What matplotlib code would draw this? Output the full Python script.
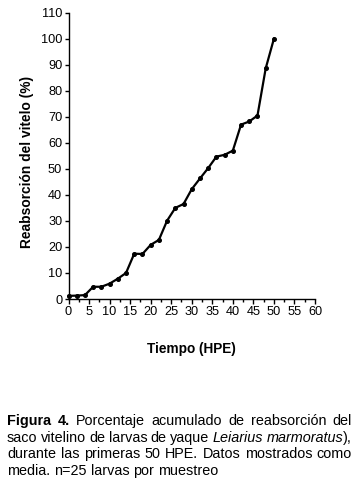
import matplotlib
matplotlib.use('Agg')
from matplotlib import pyplot as plt
from matplotlib.ticker import MultipleLocator

plt.rcParams['font.family'] = ['Liberation Sans', 'DejaVu Sans']

# time after hatching (h) and cumulative yolk reabsorption (%)
hours = [0, 2, 4, 6, 8, 10, 12, 14, 16, 18, 20, 22, 24, 26, 28, 30,
         32, 34, 36, 38, 40, 42, 44, 46, 48, 50]
reabs = [1.2, 1.3, 1.5, 4.7, 4.7, 5.9, 7.8, 10.0, 17.4, 17.3, 20.8, 22.7,
         30.1, 35.0, 36.5, 42.2, 46.3, 50.3, 54.7, 55.4, 57.0, 67.0, 68.2,
         70.5, 88.6, 100.0]

x_ticks = [0, 5, 10, 15, 20, 25, 30, 35, 40, 45, 50, 55, 60]
y_ticks = [0, 10, 20, 30, 40, 50, 60, 70, 80, 90, 100, 110]

# caption lines, each a list of words made of (text, weight, style) pieces
caption = [
    [[('Figura', 'bold', 'normal')], [('4.', 'bold', 'normal')],
     [('Porcentaje', 'normal', 'normal')], [('acumulado', 'normal', 'normal')],
     [('de', 'normal', 'normal')], [('reabsorción', 'normal', 'normal')],
     [('del', 'normal', 'normal')]],
    [[('saco', 'normal', 'normal')], [('vitelino', 'normal', 'normal')],
     [('de', 'normal', 'normal')], [('larvas', 'normal', 'normal')],
     [('de', 'normal', 'normal')], [('yaque', 'normal', 'normal')],
     [('Leiarius', 'normal', 'italic')],
     [('marmoratus', 'normal', 'italic'), ('),', 'normal', 'normal')]],
    [[(w, 'normal', 'normal')] for w in
     'durante las primeras 50 HPE. Datos mostrados como'.split()],
    [[(w, 'normal', 'normal')] for w in
     'media. n=25 larvas por muestreo'.split()],
]

W, H = 357, 484
fig = plt.figure(figsize=(W / 100, H / 100), dpi=100)
ax = fig.add_axes([68.5 / W, 1 - 299 / H, 246.5 / W, 286.3 / H])

ax.plot(hours, reabs, color='black', lw=1.6, marker='o', ms=2.6,
        clip_on=False, zorder=3)

ax.set_xlim(0, 60)
ax.set_ylim(0, 110)
ax.set_xticks(x_ticks)
ax.set_yticks(y_ticks)
ax.xaxis.set_minor_locator(MultipleLocator(2.5))
for s in ['top', 'right']:
    ax.spines[s].set_visible(False)
for s in ['left', 'bottom']:
    ax.spines[s].set_linewidth(1.0)
ax.tick_params(axis='both', which='major', labelsize=9.2, length=3.5,
               width=1.0, pad=1.5)
ax.tick_params(axis='x', which='minor', length=2.5, width=1.0)
ax.tick_params(axis='y', which='major', length=3)

ax.set_xlabel('Tiempo (HPE)', fontsize=9.8, fontweight='bold', labelpad=17)
ax.set_ylabel('Reabsorción del vitelo (%)', fontsize=9.9, fontweight='bold',
              labelpad=2)
ax.yaxis.set_label_coords(-0.14, 0.478)

# justified caption
fig.canvas.draw()
renderer = fig.canvas.get_renderer()
left_px, right_px = 7, 352
baselines = [425, 441.7, 458.3, 475]
fsize = 10.4


def measure(txt, weight, style):
    t = fig.text(0, 0, txt, fontsize=fsize, fontweight=weight, fontstyle=style)
    w = t.get_window_extent(renderer).width
    t.remove()
    return w


for i, line in enumerate(caption):
    widths = [[measure(*p) for p in word] for word in line]
    total = sum(sum(ws) for ws in widths)
    if i < len(caption) - 1:
        gap = (right_px - left_px - total) / (len(line) - 1)
    else:
        gap = measure('a a', 'normal', 'normal') - 2 * measure('a', 'normal', 'normal')
    x = left_px
    for word, ws in zip(line, widths):
        for (txt, weight, style), w in zip(word, ws):
            fig.text(x / W, 1 - baselines[i] / H, txt, fontsize=fsize,
                     fontweight=weight, fontstyle=style, va='baseline')
            x += w
        x += gap

fig.savefig('out.png', dpi=100)
